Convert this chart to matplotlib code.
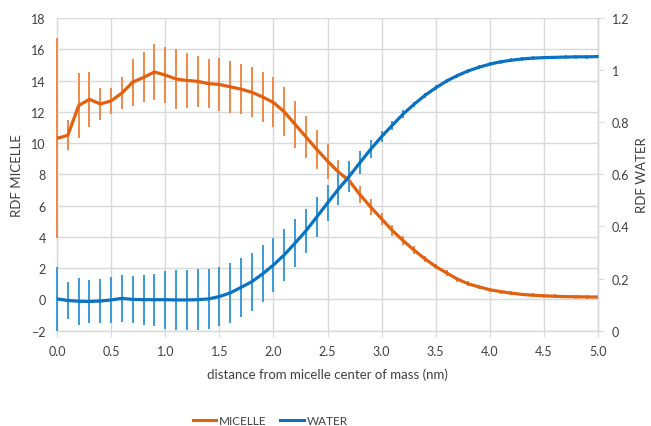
import numpy as np
import matplotlib
matplotlib.use("Agg")
import matplotlib.pyplot as plt
from matplotlib.lines import Line2D

plt.rcParams['font.family'] = ['Lato', 'DejaVu Sans']

# distance (nm), one point every 0.1 nm
distance = [round(0.1 * i, 1) for i in range(51)]

micelle = [10.3, 10.5, 12.4, 12.8, 12.5, 12.7, 13.2, 13.9, 14.2, 14.55,
           14.35, 14.1, 14.0, 13.95, 13.8, 13.75, 13.6, 13.45, 13.25, 12.95,
           12.6, 12.0, 11.2, 10.4, 9.6, 8.85, 8.15, 7.6, 6.7, 5.9,
           5.15, 4.4, 3.75, 3.15, 2.6, 2.1, 1.7, 1.3, 1.0, 0.8,
           0.62, 0.5, 0.4, 0.32, 0.27, 0.23, 0.2, 0.18, 0.17, 0.16, 0.15]
micelle_err = [6.4, 0.95, 2.1, 1.75, 1.0, 0.85, 1.0, 1.5, 1.6, 1.8,
               1.8, 1.9, 1.75, 1.65, 1.55, 1.7, 1.65, 1.6, 1.6, 1.6,
               1.6, 1.57, 1.5, 1.36, 1.26, 1.12, 0.75, 0.64, 0.55, 0.5,
               0.4, 0.33, 0.3, 0.25, 0.2, 0.18, 0.18, 0.16, 0.15, 0.14,
               0.13, 0.13, 0.12, 0.12, 0.12, 0.12, 0.12, 0.12, 0.12, 0.12, 0.12]

water = [0.122, 0.116, 0.113, 0.112, 0.114, 0.118, 0.124, 0.12, 0.119, 0.119,
         0.119, 0.118, 0.118, 0.119, 0.122, 0.131, 0.145, 0.166, 0.188, 0.218,
         0.252, 0.291, 0.336, 0.383, 0.436, 0.49, 0.543, 0.592, 0.645, 0.697,
         0.745, 0.789, 0.832, 0.869, 0.903, 0.932, 0.958, 0.979, 0.997, 1.011,
         1.023, 1.032, 1.038, 1.043, 1.046, 1.048, 1.049, 1.05, 1.051, 1.051, 1.052]
water_err = [0.122, 0.07, 0.09, 0.083, 0.086, 0.087, 0.091, 0.091, 0.096, 0.1,
             0.111, 0.114, 0.114, 0.117, 0.116, 0.113, 0.114, 0.113, 0.112, 0.109,
             0.105, 0.1, 0.093, 0.083, 0.077, 0.068, 0.061, 0.06, 0.045, 0.033,
             0.022, 0.017, 0.014, 0.01, 0.01, 0.009, 0.009, 0.008, 0.008, 0.008,
             0.008, 0.007, 0.007, 0.007, 0.007, 0.007, 0.007, 0.007, 0.007, 0.007, 0.007]

orange = '#E2600E'
orange_bar = '#F0884A'
blue = '#0A72C2'
blue_bar = '#3A9AD9'
grid_col = '#D9D9D9'
text_col = '#404040'

fig = plt.figure(figsize=(6.51, 4.27), dpi=100)
ax = fig.add_axes([0.0876, 0.2232, 0.831, 0.7323])
ax2 = ax.twinx()

eb1 = ax.errorbar(distance, micelle, yerr=micelle_err, fmt='none', ecolor=orange_bar,
                  elinewidth=1.4, capsize=0, zorder=2.6)
ax.plot(distance, micelle, color=orange, lw=2.3, zorder=3, solid_capstyle='round')

eb2 = ax2.errorbar(distance, water, yerr=water_err, fmt='none', ecolor=blue_bar,
                   elinewidth=1.4, capsize=0, zorder=2.6)
ax2.plot(distance, water, color=blue, lw=2.3, zorder=3, solid_capstyle='round')

# keep the bars at x = 0 fully visible (not half clipped by the axes edge)
for eb in (eb1, eb2):
    for coll in eb[2]:
        coll.set_clip_on(False)

ax.set_xlim(0, 5)
ax.set_ylim(-2, 18)
ax.set_yticks(np.arange(-2, 19, 2))
ax.set_xticks(np.arange(0, 5.01, 0.5))
ax.set_xticklabels([f'{v:.1f}' for v in np.arange(0, 5.01, 0.5)])
ax2.set_ylim(0, 1.2)
ax2.set_yticks([0, 0.2, 0.4, 0.6, 0.8, 1, 1.2])
ax2.set_yticklabels(['0', '0.2', '0.4', '0.6', '0.8', '1', '1.2'])

ax.grid(True, color=grid_col, lw=1.0)
ax.set_axisbelow(True)

for a in (ax, ax2):
    a.spines['top'].set_visible(False)
    for s in ('left', 'right', 'bottom'):
        a.spines[s].set_color(grid_col)
        a.spines[s].set_linewidth(1.0)
ax2.spines['left'].set_visible(False)
ax2.spines['bottom'].set_visible(False)

ax.tick_params(axis='y', length=0, labelsize=9, labelcolor=text_col, pad=8)
ax.tick_params(axis='x', length=4, color=grid_col, labelsize=9, labelcolor=text_col, pad=6)
ax2.tick_params(axis='y', length=4, color=grid_col, labelsize=9, labelcolor=text_col, pad=6)

ax.set_xlabel('distance from micelle center of mass (nm)', fontsize=9.5,
              color=text_col, labelpad=8)
ax.set_ylabel('RDF MICELLE', fontsize=9.5, color=text_col, labelpad=6)
ax2.set_ylabel('RDF WATER', fontsize=9.5, color=text_col, labelpad=5)

handles = [Line2D([], [], color=orange, lw=2.2), Line2D([], [], color=blue, lw=2.2)]
fig.legend(handles, ['MICELLE', 'WATER'], loc='center', bbox_to_anchor=(0.415, 0.012),
           ncol=2, frameon=False, fontsize=8.5, handlelength=2.0, handletextpad=0.2,
           columnspacing=1.2, labelcolor=text_col)

fig.savefig('out.png', dpi=100)
